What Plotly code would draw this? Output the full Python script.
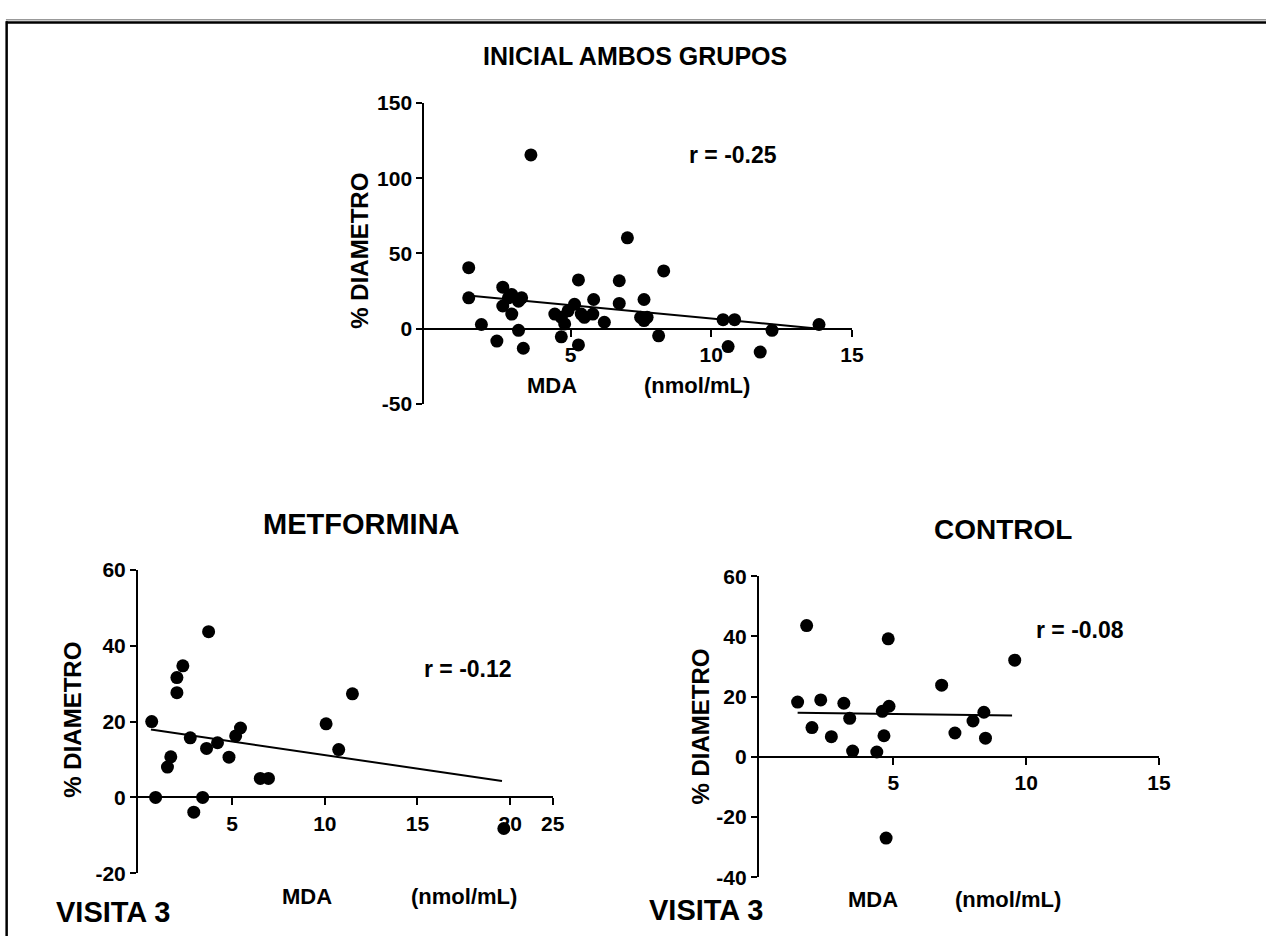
import plotly.graph_objects as go

W, H = 1278, 947

# ---------------- data ----------------
# Top: INICIAL AMBOS GRUPOS
top_x = [1.38, 1.38, 1.83, 2.38, 2.59, 2.59, 2.79, 2.91, 2.91, 3.15, 3.26, 3.15, 3.32, 3.59,
         4.44, 4.67, 4.67, 4.79, 4.91, 5.14, 5.28, 5.28, 5.38, 5.49, 5.79, 5.82, 6.20, 6.73,
         6.73, 7.02, 7.49, 7.61, 7.61, 7.72, 8.13, 8.31, 10.42, 10.60, 10.83, 11.74, 12.16, 13.83]
top_y = [40.6, 20.5, 2.8, -8.2, 27.6, 15.1, 20.5, 22.7, 9.7, 18.3, 20.5, -1.1, -13.0, 115.5,
         9.7, 7.6, -5.4, 3.2, 11.9, 16.2, 32.4, -10.8, 9.7, 7.6, 9.7, 19.4, 4.3, 31.9,
         16.8, 60.4, 7.6, 19.4, 5.4, 7.6, -4.7, 38.4, 6.0, -11.9, 6.0, -15.5, -1.1, 2.8]
top_fit_x = [1.27, 13.83]
top_fit_y = [22.2, 0.0]

# Bottom-left: METFORMINA
met_x = [0.66, 0.87, 1.51, 1.69, 2.02, 2.02, 2.34, 2.74, 2.93, 3.41, 3.62, 3.73, 4.21, 4.83,
         5.19, 5.45, 6.52, 6.96, 10.07, 10.75, 11.49, 19.66]
met_y = [20.0, 0.0, 8.0, 10.7, 27.6, 31.6, 34.7, 15.7, -3.9, 0.0, 12.9, 43.7, 14.4, 10.6,
         16.2, 18.3, 5.0, 5.0, 19.4, 12.6, 27.3, -8.2]
met_fit_x = [0.62, 19.56]
met_fit_y = [17.9, 4.3]

# Bottom-right: CONTROL
con_x = [1.40, 1.74, 1.94, 2.27, 2.67, 3.14, 3.36, 3.47, 4.38, 4.59, 4.65, 4.73, 4.81, 4.84,
         6.82, 7.32, 8.00, 8.41, 8.47, 9.57]
con_y = [18.2, 43.6, 9.7, 18.9, 6.7, 17.8, 12.8, 1.9, 1.6, 15.1, 7.0, -27.0, 39.2, 16.8,
         23.8, 7.9, 11.9, 14.8, 6.2, 32.1]
con_fit_x = [1.40, 9.47]
con_fit_y = [14.6, 13.7]

r_labels = ["r = -0.25", "r = -0.12", "r = -0.08"]
titles = ["INICIAL AMBOS GRUPOS", "METFORMINA", "CONTROL"]
y_title = "% DIAMETRO"
x_title_a = "MDA"
x_title_b = "(nmol/mL)"
visit_label = "VISITA 3"

top_xticks = [5, 10, 15]
top_xlabels = ["5", "10", "15"]
top_yticks = [-50, 0, 50, 100, 150]
# the reference draws its last x label ("25") right at the axis end (~22.3)
met_xticks = [5, 10, 15, 20, 22.3]
met_xlabels = ["5", "10", "15", "20", "25"]
met_yticks = [-20, 0, 20, 40, 60]
con_xticks = [5, 10, 15]
con_xlabels = ["5", "10", "15"]
con_yticks = [-40, -20, 0, 20, 40, 60]

# ---------------- layout helpers ----------------
FONT = "Liberation Sans, Arial, sans-serif"


def px(x):
    return x / W


def py(y):
    return (H - y) / H


panels = [
    # (xs, ys, fit_x, fit_y, xdom_px, ydom_px(top,bottom), xrange, yrange, xticks, xlabels, yticks)
    (top_x, top_y, top_fit_x, top_fit_y, (428.3, 860), (93.3, 401.7), [-0.2, 15], [-50, 150],
     top_xticks, top_xlabels, top_yticks),
    (met_x, met_y, met_fit_x, met_fit_y, (139.3, 558), (571.7, 882.7), [-0.08, 22.3], [-20, 60],
     met_xticks, met_xlabels, met_yticks),
    (con_x, con_y, con_fit_x, con_fit_y, (766, 1170), (578.3, 886.7), [-0.06, 15], [-40, 60],
     con_xticks, con_xlabels, con_yticks),
]

fig = go.Figure()
layout = dict(
    width=W, height=H, margin=dict(l=0, r=0, t=0, b=0),
    paper_bgcolor="white", plot_bgcolor="rgba(0,0,0,0)", showlegend=False,
    font=dict(family=FONT, color="black"),
)

for i, (xs, ys, fx, fy, xd, yd, xr, yr, xt, xl, yt) in enumerate(panels, start=1):
    xa = "x" if i == 1 else f"x{i}"
    ya = "y" if i == 1 else f"y{i}"
    fig.add_trace(go.Scatter(x=fx, y=fy, mode="lines", line=dict(color="black", width=2),
                             xaxis=xa, yaxis=ya, hoverinfo="skip"))
    fig.add_trace(go.Scatter(x=xs, y=ys, mode="markers",
                             marker=dict(color="black", size=13, line=dict(width=0)),
                             xaxis=xa, yaxis=ya, cliponaxis=False))
    ydom = [py(yd[1]), py(yd[0])]
    zero_pos = ydom[0] + (0 - yr[0]) / (yr[1] - yr[0]) * (ydom[1] - ydom[0])
    xkey = "xaxis" if i == 1 else f"xaxis{i}"
    ykey = "yaxis" if i == 1 else f"yaxis{i}"
    layout[xkey] = dict(
        domain=[px(xd[0]), px(xd[1])], range=xr, anchor="free", position=zero_pos,
        showline=True, linecolor="black", linewidth=2, showgrid=False, zeroline=False,
        ticks="outside", ticklen=7, tickwidth=2, tickcolor="black",
        tickvals=xt, ticktext=xl,
        tickfont=dict(family=FONT, size=21, color="black", weight="bold"),
        layer="below traces", fixedrange=True,
    )
    layout[ykey] = dict(
        domain=ydom, range=yr, anchor=xa,
        showline=True, linecolor="black", linewidth=2, showgrid=False, zeroline=False,
        ticks="outside", ticklen=6, tickwidth=2, tickcolor="black",
        tickvals=yt, ticktext=[str(v) for v in yt],
        tickfont=dict(family=FONT, size=21, color="black", weight="bold"),
        layer="below traces", fixedrange=True,
    )

fig.update_layout(**layout)

ann = []


def text(t, x, y, size, angle=0):
    ann.append(dict(text=f"<b>{t}</b>", x=px(x), y=py(y), xref="paper", yref="paper",
                    xanchor="center", yanchor="middle", showarrow=False, textangle=angle,
                    font=dict(family=FONT, size=size, color="black")))


# titles
text(titles[0], 641, 45, 25)
text(titles[1], 365, 525, 29)
text(titles[2], 1013, 530, 28)
# r values
text(r_labels[0], 740, 147, 23)
text(r_labels[1], 472, 673, 23)
text(r_labels[2], 1090, 633, 23)
# y titles
text(y_title, 362, 245, 24, -90)
text(y_title, 73, 725, 24, -90)
text(y_title, 707, 732, 24, -90)
# x titles
text(x_title_a, 557, 383, 22)
text(x_title_b, 704, 383, 22)
text(x_title_a, 310, 907, 22)
text(x_title_b, 468, 907, 22)
text(x_title_a, 881, 910, 22)
text(x_title_b, 1018, 910, 22)
# visit labels
text(visit_label, 114, 922, 29)
text(visit_label, 713, 920, 29)

fig.update_layout(annotations=ann)

# outer frame (top and left edges)
fig.add_shape(type="line", xref="paper", yref="paper", x0=px(6), x1=1, y0=py(8), y1=py(8),
              line=dict(color="#999999", width=1.5))
fig.add_shape(type="line", xref="paper", yref="paper", x0=px(6), x1=1, y0=py(10.8), y1=py(10.8),
              line=dict(color="black", width=2.5))
fig.add_shape(type="line", xref="paper", yref="paper", x0=px(6.7), x1=px(6.7), y0=py(9.6), y1=0,
              line=dict(color="black", width=2.5))

fig.write_html("out.html")
